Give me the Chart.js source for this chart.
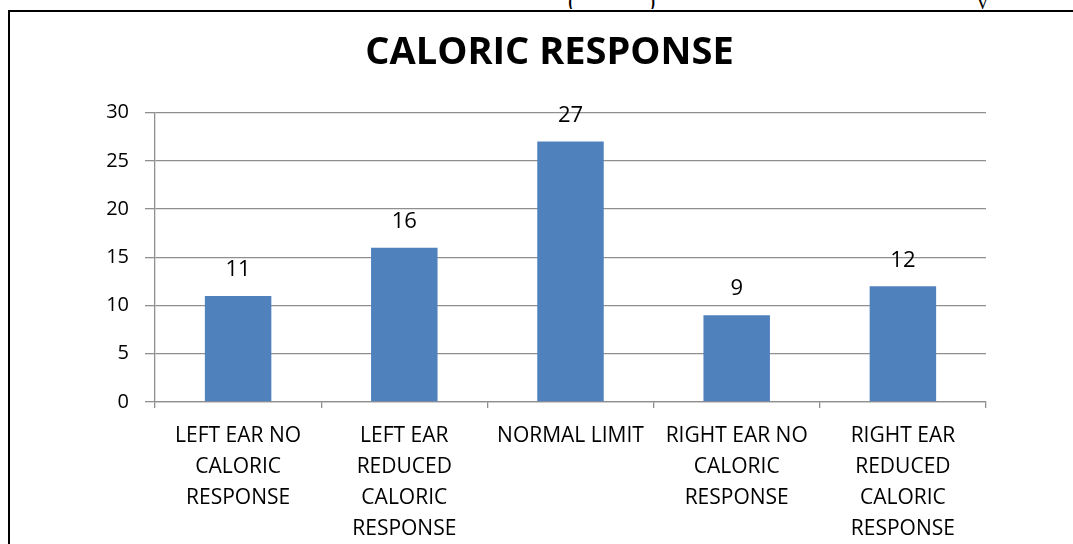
<!DOCTYPE html>
<html>
<head>
<meta charset="utf-8">
<script src="https://cdn.jsdelivr.net/npm/chart.js@4.4.1/dist/chart.umd.min.js"></script>
<style>
  html, body { margin: 0; padding: 0; background: #fff; }
  #wrap { position: relative; width: 1073px; height: 544px; overflow: hidden; }
  #frame { position: absolute; left: 8px; top: 10px; width: 1100px; height: 600px;
           border-left: 2.5px solid #000; border-top: 2.5px solid #000; pointer-events: none; }
  #above { position: absolute; left: 0; top: 0; width: 1073px; height: 9px; overflow: hidden;
           font-family: "Liberation Serif", serif; font-size: 22px; color: #000; }
  #above span { position: absolute; top: -12px; }
  canvas { position: absolute; left: 0; top: 0; }
</style>
</head>
<body>
<div id="wrap">
  <div id="above"><span style="left:568px">(</span><span style="left:648px">)</span><span style="left:977px">y</span></div>
  <canvas id="myChart" width="1073" height="544"></canvas>
  <div id="frame"></div>
</div>
<script>
const titleText = 'CALORIC RESPONSE';
const categories = [
  ['LEFT EAR NO', 'CALORIC', 'RESPONSE'],
  ['LEFT EAR', 'REDUCED', 'CALORIC', 'RESPONSE'],
  ['NORMAL LIMIT'],
  ['RIGHT EAR NO', 'CALORIC', 'RESPONSE'],
  ['RIGHT EAR', 'REDUCED', 'CALORIC', 'RESPONSE']
];
const responses = [11, 16, 27, 9, 12];
const yMin = 0;
const yMax = 30;
const yStep = 5;

const font = '"Open Sans", "Noto Sans", sans-serif';
const gridGrey = '#8f8f8f';

// value labels above each bar
const barLabels = {
  id: 'barLabels',
  afterDatasetsDraw(chart) {
    const ctx = chart.ctx;
    const meta = chart.getDatasetMeta(0);
    ctx.save();
    ctx.font = '22px ' + font;
    ctx.fillStyle = '#000';
    ctx.textAlign = 'center';
    ctx.textBaseline = 'middle';
    meta.data.forEach((bar, i) => {
      ctx.fillText(String(responses[i]), bar.x, bar.y - 26);
    });
    ctx.restore();
  }
};

var chartContext = document.getElementById('myChart').getContext('2d');
var myChart = new Chart(chartContext, {
  type: 'bar',
  data: {
    labels: categories,
    datasets: [{
      data: responses,
      backgroundColor: '#4f81bd',
      borderWidth: 0,
      barPercentage: 0.4,
      categoryPercentage: 1.0
    }]
  },
  options: {
    responsive: false,
    animation: false,
    layout: { padding: { left: 26, right: 0, top: 0, bottom: 0 } },
    plugins: {
      legend: { display: false },
      tooltip: { enabled: false },
      title: {
        display: true,
        text: titleText,
        color: '#000',
        font: { family: font, size: 38, weight: 'bold', lineHeight: 1.2 },
        padding: { top: 30, bottom: 37 }
      }
    },
    scales: {
      x: {
        offset: true,
        grid: { offset: true, drawOnChartArea: false, tickLength: 6, color: gridGrey, lineWidth: 1.3 },
        border: { color: gridGrey, width: 1.3 },
        ticks: {
          maxRotation: 0,
          autoSkip: false,
          color: '#000',
          padding: 12,
          font: { family: font, size: 21, lineHeight: 1.48 }
        },
        afterFit(scale) { scale.height = 142; }
      },
      y: {
        min: yMin,
        max: yMax,
        ticks: {
          stepSize: yStep,
          color: '#000',
          padding: 16,
          font: { family: font, size: 20 }
        },
        grid: { color: gridGrey, lineWidth: 1.3, tickLength: 10 },
        border: { color: gridGrey, width: 1.3 },
        afterFit(scale) { scale.width = 129; }
      },
      // empty right-hand space, keeps the plot ending where the original does
      spacer: {
        type: 'linear',
        position: 'right',
        ticks: { display: false },
        grid: { display: false, drawTicks: false },
        border: { display: false },
        afterFit(scale) { scale.width = 87; }
      }
    }
  },
  plugins: [barLabels]
});
</script>
</body>
</html>
